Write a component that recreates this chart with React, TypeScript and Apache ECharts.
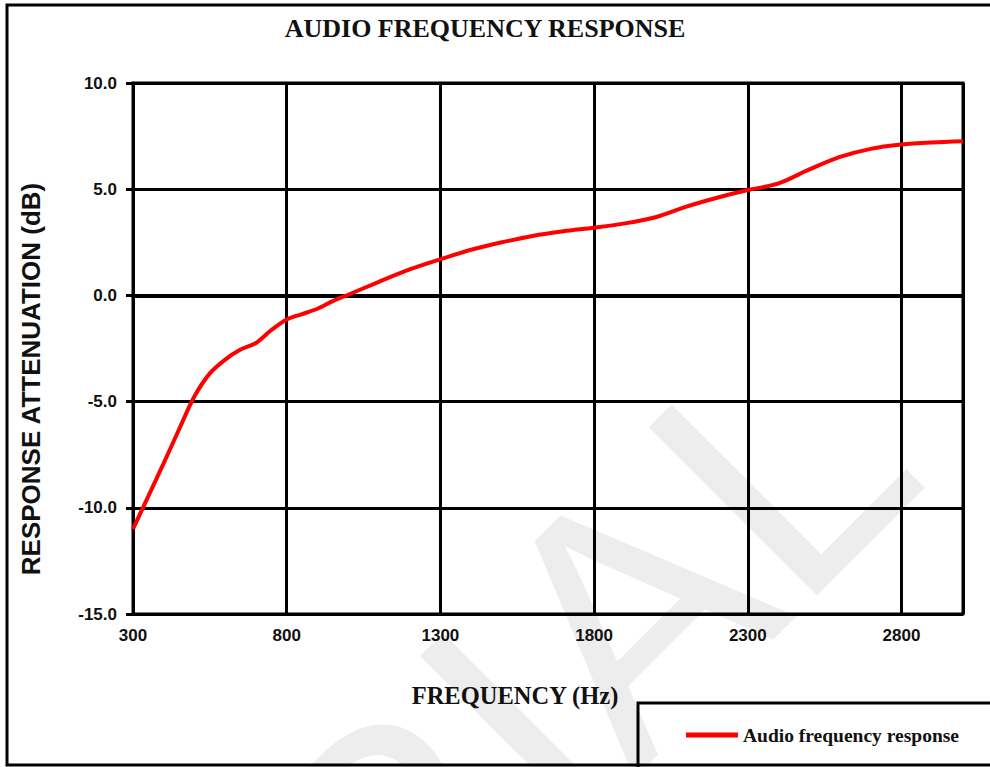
import React, { useEffect, useRef } from 'react';
import * as echarts from 'echarts';

// Frequency (Hz) and response (dB)
const frequencies = [300, 350, 400, 450, 500, 550, 600, 650, 700, 750, 800, 850, 900, 950, 1000, 1100, 1200, 1300, 1400, 1500, 1600, 1700, 1800, 1900, 2000, 2100, 2200, 2300, 2400, 2500, 2600, 2700, 2800, 2900, 3000];
const responseDb = [-11.0, -9.45, -7.9, -6.3, -4.75, -3.67, -3.02, -2.55, -2.24, -1.63, -1.13, -0.88, -0.63, -0.27, 0.03, 0.64, 1.22, 1.7, 2.15, 2.5, 2.8, 3.02, 3.19, 3.39, 3.68, 4.18, 4.6, 4.96, 5.27, 5.93, 6.52, 6.9, 7.1, 7.2, 7.26];
const FREQ_MIN = 300;
const FREQ_MAX = 3000;
const FREQ_STEP = 500;
const DB_MIN = -15;
const DB_MAX = 10;
const DB_STEP = 5;

const seriesName = 'Audio frequency response';
const chartTitle = 'AUDIO FREQUENCY RESPONSE';
const xTitle = 'FREQUENCY (Hz)';
const yTitle = 'RESPONSE ATTENUATION (dB)';
const watermark = 'TRIAL';

export default function App() {
  const ref = useRef<HTMLDivElement>(null);
  useEffect(() => {
    if (!ref.current) return;
    const chart = echarts.init(ref.current, null, { renderer: 'svg' });
    const sans = '"Liberation Sans", Arial, sans-serif';
    const serif = '"Liberation Serif", "Times New Roman", serif';
    const data = frequencies.map((f, i) => [f - FREQ_MIN, responseDb[i]]);
    chart.setOption({
      animation: false,
      backgroundColor: '#ffffff',
      grid: {
        left: 133,
        top: 83,
        right: 27,
        bottom: 153,
        show: true,
        borderColor: '#000',
        borderWidth: 3,
        backgroundColor: 'transparent',
      },
      xAxis: {
        type: 'value',
        min: 0,
        max: FREQ_MAX - FREQ_MIN,
        interval: FREQ_STEP,
        axisLine: { show: true, lineStyle: { color: '#000', width: 4 } },
        axisTick: { show: true, inside: false, length: 7, lineStyle: { color: '#000', width: 3 } },
        splitLine: { show: true, lineStyle: { color: '#000', width: 3 } },
        axisLabel: {
          show: true,
          margin: 13,
          showMaxLabel: false,
          color: '#111',
          fontFamily: sans,
          fontWeight: 'bold',
          fontSize: 17,
          formatter: (v: number) => String(v + FREQ_MIN),
        },
      },
      yAxis: {
        type: 'value',
        min: DB_MIN,
        max: DB_MAX,
        interval: DB_STEP,
        axisLine: { show: true, lineStyle: { color: '#000', width: 3 } },
        axisTick: { show: true, inside: false, length: 7, lineStyle: { color: '#000', width: 3 } },
        splitLine: { show: true, lineStyle: { color: '#000', width: 3 } },
        axisLabel: {
          show: true,
          margin: 16,
          color: '#111',
          fontFamily: sans,
          fontWeight: 'bold',
          fontSize: 17,
          formatter: (v: number) => v.toFixed(1),
        },
      },
      legend: {
        show: true,
        left: 686,
        top: 725,
        padding: 0,
        itemWidth: 52,
        itemHeight: 5,
        icon: 'rect',
        data: [{ name: seriesName, icon: 'rect', itemStyle: { color: '#ff0000' } }],
        textStyle: { fontFamily: serif, fontWeight: 'bold', fontSize: 19.5, color: '#111', padding: [0, 0, 0, 0] },
      },
      series: [
        {
          name: seriesName,
          type: 'line',
          data,
          smooth: 0.3,
          showSymbol: false,
          symbol: 'none',
          lineStyle: { color: '#ff0000', width: 4 },
          itemStyle: { color: '#ff0000' },
          z: 5,
        },
      ],
      graphic: [
        {
          type: 'text',
          z: -100,
          silent: true,
          x: 155,
          y: 1088,
          rotation: Math.PI / 4,
          style: {
            text: watermark,
            x: 0,
            y: 0,
            fontSize: 346,
            fontFamily: sans,
            fill: '#ededed',
            textAlign: 'left',
            textVerticalAlign: 'middle',
            align: 'left',
            verticalAlign: 'middle',
          },
        },
        {
          type: 'rect',
          z: 10,
          silent: true,
          shape: { x: 7, y: 5, width: 1000, height: 760 },
          style: { fill: 'none', stroke: '#000', lineWidth: 3 },
        },
        {
          type: 'rect',
          z: 10,
          silent: true,
          shape: { x: 638, y: 703, width: 400, height: 100 },
          style: { fill: 'none', stroke: '#000', lineWidth: 3 },
        },
        {
          type: 'text',
          z: 10,
          x: 485,
          y: 28,
          style: {
            text: chartTitle,
            fontSize: 26,
            fontWeight: 'bold',
            fontFamily: serif,
            fill: '#111',
            textAlign: 'center',
            textVerticalAlign: 'middle',
            align: 'center',
            verticalAlign: 'middle',
          },
        },
        {
          type: 'text',
          z: 10,
          x: 515,
          y: 695,
          style: {
            text: xTitle,
            fontSize: 24.5,
            fontWeight: 'bold',
            fontFamily: serif,
            fill: '#111',
            textAlign: 'center',
            textVerticalAlign: 'middle',
            align: 'center',
            verticalAlign: 'middle',
          },
        },
        {
          type: 'text',
          z: 10,
          x: 31,
          y: 379,
          rotation: Math.PI / 2,
          style: {
            text: yTitle,
            fontSize: 26,
            fontWeight: 'bold',
            fontFamily: sans,
            fill: '#111',
            textAlign: 'center',
            textVerticalAlign: 'middle',
            align: 'center',
            verticalAlign: 'middle',
          },
        },
      ],
    });
    return () => chart.dispose();
  }, []);
  return (
    <div
      ref={ref}
      style={{ position: 'fixed', left: 0, top: 0, width: 990, height: 767, background: '#fff' }}
    />
  );
}
